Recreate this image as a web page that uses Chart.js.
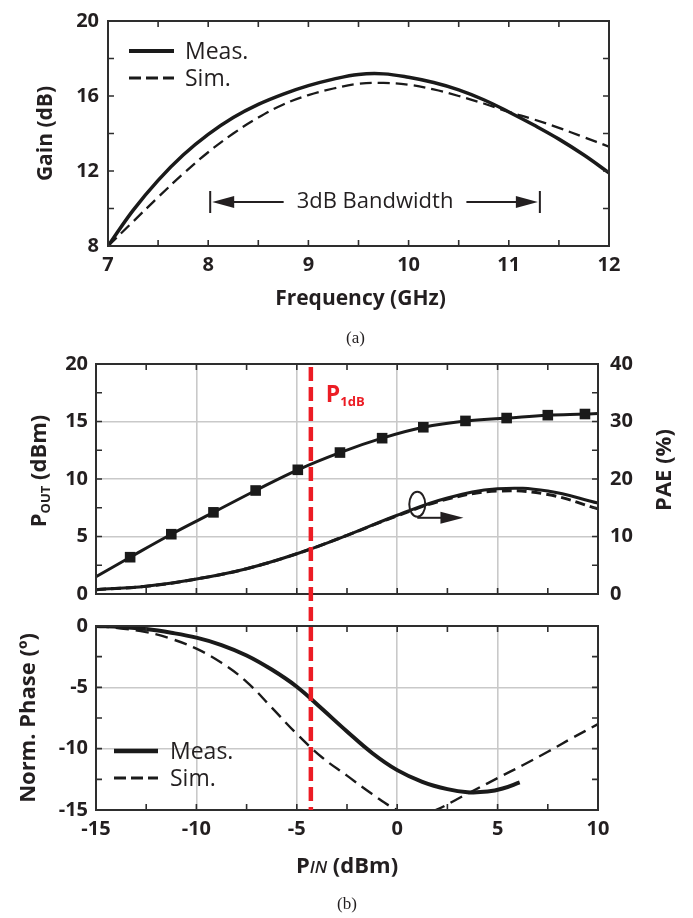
<!DOCTYPE html>
<html><head><meta charset="utf-8">
<script src="https://cdn.jsdelivr.net/npm/chart.js@4.4.1/dist/chart.umd.min.js"></script>
<style>
html,body{margin:0;padding:0;background:#fff;}
#wrap{position:relative;width:693px;height:918px;overflow:hidden;}
canvas{position:absolute;left:0;top:0;}
</style></head>
<body><div id="wrap">
<canvas id="ca" width="693" height="918"></canvas>
<canvas id="cb" width="693" height="918"></canvas>
<canvas id="cc" width="693" height="918"></canvas>
</div>
<script>
// ---------- (a) Gain vs frequency ----------
const freqGHz  = [7, 7.25, 7.5, 7.75, 8, 8.25, 8.5, 8.75, 9, 9.25, 9.5, 9.75, 10, 10.25, 10.5, 10.75, 11, 11.25, 11.5, 11.75, 12];
const gainMeas = [8.0, 9.9, 11.5, 12.85, 13.95, 14.85, 15.55, 16.1, 16.55, 16.9, 17.15, 17.18, 17.0, 16.72, 16.33, 15.8, 15.15, 14.45, 13.7, 12.85, 11.9];
const gainSim  = [8.0, 9.3, 10.6, 11.85, 13.0, 14.0, 14.85, 15.55, 16.05, 16.4, 16.65, 16.7, 16.6, 16.35, 16.0, 15.6, 15.15, 14.75, 14.3, 13.8, 13.3];
const freqTickLabels = [7, 8, 9, 10, 11, 12];
const gainTickLabels = [8, 12, 16, 20];
const bandwidthEdgesGHz = [8.02, 11.31];
const bandwidthLevelDb = 10.35;

// ---------- (b) Pout / PAE vs Pin ----------
const pinPout   = [-15, -13.3, -11.25, -9.15, -7.05, -4.95, -2.85, -0.75, 1.3, 3.4, 5.45, 7.5, 9.35, 10];
const poutMeas  = [1.5, 3.2, 5.2, 7.1, 9.0, 10.8, 12.3, 13.55, 14.5, 15.05, 15.3, 15.55, 15.65, 15.7];
const poutMarker= [false, true, true, true, true, true, true, true, true, true, true, true, true, false];
const pinPae    = [-15, -12.5, -10, -7.5, -5, -2.5, 0, 2.5, 5, 7.5, 10];
const paeMeas   = [0.75, 1.35, 2.6, 4.4, 7.0, 10.2, 13.7, 16.7, 18.3, 17.9, 15.8];
const paeSim    = [0.75, 1.35, 2.6, 4.4, 7.0, 10.2, 13.6, 16.5, 17.9, 17.3, 14.8];
const poutTickLabels = [0, 5, 10, 15, 20];
const paeTickLabels  = [0, 10, 20, 30, 40];

// ---------- (b) Phase vs Pin ----------
const pinPhaseMeas = [-15, -13.75, -12.5, -11.25, -10, -8.75, -7.5, -6.25, -5, -3.75, -2.5, -1.25, 0, 1.25, 2.5, 3.5, 4.5, 5.25, 6.1];
const phaseMeas    = [0, -0.08, -0.25, -0.55, -0.95, -1.55, -2.4, -3.55, -4.95, -6.75, -8.6, -10.35, -11.75, -12.7, -13.3, -13.55, -13.5, -13.25, -12.75];
const pinPhaseSim  = [-15, -13.75, -12.5, -11.25, -10, -8.75, -7.5, -6.25, -5, -3.75, -2.5, -1.25, 0, 1, 2, 3, 4, 5, 6.25, 7.5, 8.75, 10];
const phaseSim     = [0, -0.2, -0.5, -1.05, -1.85, -3.0, -4.55, -6.65, -8.8, -10.7, -12.2, -13.7, -15.0, -15.5, -14.95, -14.1, -13.25, -12.4, -11.35, -10.25, -9.1, -8.0];
const pinTickLabels   = [-15, -10, -5, 0, 5, 10];
const phaseTickLabels = [0, -5, -10, -15];
const p1dbPin = -4.3;
const paeCircle = {pin: 1.0, pae: 15.6, arrowTo: 3.3};

// ---------- common ----------
const FONT = "'Open Sans', 'Liberation Sans', sans-serif";
const INK = '#231f20';
Chart.defaults.font.family = FONT;
Chart.defaults.color = INK;
Chart.defaults.animation = false;
Chart.defaults.plugins.legend.display = false;
Chart.defaults.plugins.tooltip.enabled = false;
const TICK_FONT = {family: FONT, size: 20, weight: 'bold'};
const GRID = '#c9c9c9';

function pts(xs, ys){ return xs.map((x,i)=>({x:x, y:ys[i]})); }
function dummy(pos, size){
  return {position: pos, display: true, min: 0, max: 1,
    ticks: {display: false}, grid: {display: false, drawTicks: false}, border: {display: false},
    afterFit(s){ if (pos === 'top' || pos === 'bottom') s.height = size; else s.width = size; }};
}
function labelCb(list){ return v => list.includes(v) ? String(v) : ''; }
function gridCb(list){
  return c => (c.tick && list.includes(c.tick.value)) ? GRID : 'rgba(0,0,0,0)';
}

const frameTicks = {
  id: 'frameTicks',
  afterDraw(chart){
    const {ctx, chartArea: a} = chart;
    const xs = chart.scales.x, ys = chart.scales.y;
    const L = 6;
    ctx.save();
    ctx.strokeStyle = '#2e2e2e';
    ctx.lineWidth = 1.6;
    ctx.beginPath();
    xs.ticks.forEach(t => {
      if (t.value <= xs.min || t.value >= xs.max) return;
      const px = xs.getPixelForValue(t.value);
      ctx.moveTo(px, a.bottom); ctx.lineTo(px, a.bottom - L);
      ctx.moveTo(px, a.top); ctx.lineTo(px, a.top + L);
    });
    ys.ticks.forEach(t => {
      if (t.value <= ys.min || t.value >= ys.max) return;
      const py = ys.getPixelForValue(t.value);
      ctx.moveTo(a.left, py); ctx.lineTo(a.left + L, py);
      ctx.moveTo(a.right, py); ctx.lineTo(a.right - L, py);
    });
    ctx.stroke();
    ctx.lineWidth = 2;
    ctx.strokeRect(a.left, a.top, a.right - a.left, a.bottom - a.top);
    ctx.restore();
  }
};

function drawRuns(ctx, runs, cx, cy, angle){
  ctx.save();
  ctx.translate(cx, cy);
  if (angle) ctx.rotate(angle);
  let total = 0;
  runs.forEach(r => { ctx.font = r.font; r.w = ctx.measureText(r.text).width; total += r.w; });
  let x = -total / 2;
  ctx.textBaseline = 'alphabetic';
  ctx.textAlign = 'left';
  runs.forEach(r => { ctx.font = r.font; ctx.fillStyle = r.color || INK; ctx.fillText(r.text, x, r.base); x += r.w; });
  ctx.restore();
}
function arrowHead(ctx, tipX, y, dir, len, half){
  ctx.beginPath();
  ctx.moveTo(tipX, y);
  ctx.lineTo(tipX - dir * len, y - half);
  ctx.lineTo(tipX - dir * len, y + half);
  ctx.closePath();
  ctx.fill();
}
function drawLegend(ctx, chart, x0, x1, yRows, textX){
  chart.data.datasets.forEach((ds, i) => {
    const y = yRows[i];
    ctx.save();
    ctx.strokeStyle = ds.borderColor;
    ctx.lineWidth = ds.borderWidth + 0.5;
    ctx.setLineDash(ds.legendDash || []);
    ctx.beginPath(); ctx.moveTo(x0, y); ctx.lineTo(x1, y); ctx.stroke();
    ctx.restore();
    ctx.font = '400 23px ' + FONT;
    ctx.fillStyle = INK;
    ctx.textBaseline = 'middle';
    ctx.textAlign = 'left';
    ctx.fillText(ds.label, textX, y + 1);
  });
}

const TITLE = 'bold 21px ' + FONT;

// ---------- Chart (a) ----------
const annotA = {
  id: 'annotA',
  afterDraw(chart){
    const {ctx, chartArea: a} = chart;
    const xs = chart.scales.x, ys = chart.scales.y;
    const cx = (a.left + a.right) / 2;
    drawRuns(ctx, [{text: 'Gain (dB)', font: TITLE, base: 7.5}], 44, (a.top + a.bottom) / 2, -Math.PI / 2);
    drawRuns(ctx, [{text: 'Frequency (GHz)', font: TITLE, base: 7.5}], cx + 2, a.bottom + 51, 0);
    drawRuns(ctx, [{text: '(a)', font: '17px "Liberation Serif", serif', base: 6}], cx - 3, a.bottom + 91, 0);
    drawLegend(ctx, chart, a.left + 21, a.left + 66, [a.top + 30, a.top + 57], a.left + 77);
    // 3dB bandwidth arrows
    const xl = xs.getPixelForValue(bandwidthEdgesGHz[0]);
    const xr = xs.getPixelForValue(bandwidthEdgesGHz[1]);
    const y = ys.getPixelForValue(bandwidthLevelDb);
    ctx.save();
    ctx.strokeStyle = INK; ctx.fillStyle = INK; ctx.lineWidth = 2;
    ctx.font = '400 22px ' + FONT;
    const label = '3dB Bandwidth';
    const tw = ctx.measureText(label).width;
    const mid = (xl + xr) / 2;
    ctx.textAlign = 'center'; ctx.textBaseline = 'middle';
    ctx.fillText(label, mid, y);
    ctx.beginPath();
    ctx.moveTo(xl, y - 11); ctx.lineTo(xl, y + 11);
    ctx.moveTo(xr, y - 11); ctx.lineTo(xr, y + 11);
    ctx.moveTo(xl + 10, y); ctx.lineTo(mid - tw / 2 - 13, y);
    ctx.moveTo(mid + tw / 2 + 13, y); ctx.lineTo(xr - 10, y);
    ctx.stroke();
    arrowHead(ctx, xl + 2, y, -1, 22, 6);
    arrowHead(ctx, xr - 2, y, 1, 22, 6);
    ctx.restore();
  }
};

new Chart(document.getElementById('ca'), {
  type: 'line',
  data: {datasets: [
    {label: 'Meas.', data: pts(freqGHz, gainMeas), borderColor: '#1a1a1a', borderWidth: 3.5,
     pointRadius: 0, tension: 0.4, legendDash: []},
    {label: 'Sim.', data: pts(freqGHz, gainSim), borderColor: '#1a1a1a', borderWidth: 2.3,
     borderDash: [12, 6], pointRadius: 0, tension: 0.4, legendDash: [12, 5]}
  ]},
  options: {
    responsive: false, devicePixelRatio: 1,
    layout: {padding: {left: 0, right: 0, top: 0, bottom: 612}},
    scales: {
      x: {type: 'linear', position: 'bottom', min: 7, max: 12,
          ticks: {stepSize: 0.5, autoSkip: false, maxRotation: 0, padding: 7, font: TICK_FONT, callback: labelCb(freqTickLabels)},
          grid: {display: false, drawTicks: false}, border: {display: false},
          afterFit(s){ s.height = 60; }},
      y: {type: 'linear', position: 'left', min: 8, max: 20,
          ticks: {stepSize: 2, autoSkip: false, padding: 9, font: TICK_FONT, callback: labelCb(gainTickLabels)},
          grid: {display: false, drawTicks: false}, border: {display: false},
          afterFit(s){ s.width = 108; }},
      x2: dummy('top', 15),
      y2: dummy('right', 84)
    }
  },
  plugins: [frameTicks, annotA]
});

// ---------- Chart (b) top ----------
let chartTop;
const annotB = {
  id: 'annotB',
  afterDraw(chart){
    const {ctx, chartArea: a} = chart;
    const xs = chart.scales.x, yp = chart.scales.yPae, ys = chart.scales.y;
    drawRuns(ctx, [
      {text: 'P', font: 'bold 22px ' + FONT, base: 8},
      {text: 'OUT', font: 'bold 13px ' + FONT, base: 12},
      {text: ' (dBm)', font: 'bold 22px ' + FONT, base: 8}
    ], 38, (a.top + a.bottom) / 2 - 8, -Math.PI / 2);
    drawRuns(ctx, [{text: 'PAE (%)', font: 'bold 22px ' + FONT, base: 8}], 663, (a.top + a.bottom) / 2 - 9, -Math.PI / 2);
    // circle + arrow marking the PAE curves
    const cx = xs.getPixelForValue(paeCircle.pin), cy = yp.getPixelForValue(paeCircle.pae);
    const tx = xs.getPixelForValue(paeCircle.arrowTo);
    ctx.save();
    ctx.strokeStyle = INK; ctx.fillStyle = INK; ctx.lineWidth = 2;
    ctx.beginPath(); ctx.ellipse(cx, cy, 8, 12.5, 0, 0, Math.PI * 2); ctx.stroke();
    const ay = cy + 13.5;
    ctx.beginPath(); ctx.moveTo(cx, ay); ctx.lineTo(tx - 18, ay); ctx.stroke();
    arrowHead(ctx, tx, ay, 1, 23, 6);
    ctx.restore();
    // P1dB label
    const px = xs.getPixelForValue(p1dbPin);
    const py = ys.getPixelForValue(17.4);
    ctx.save();
    ctx.fillStyle = '#ec1c24';
    ctx.textBaseline = 'alphabetic'; ctx.textAlign = 'left';
    ctx.font = 'bold 23px ' + FONT;
    ctx.fillText('P', px + 15, py + 8);
    const w = ctx.measureText('P').width;
    ctx.font = 'bold 13px ' + FONT;
    ctx.fillText('1dB', px + 15 + w, py + 12);
    ctx.restore();
  }
};

chartTop = new Chart(document.getElementById('cb'), {
  type: 'line',
  data: {datasets: [
    {label: 'Pout', data: pts(pinPout, poutMeas), yAxisID: 'y', borderColor: '#1a1a1a', borderWidth: 3,
     pointStyle: 'rect', pointRadius: poutMarker.map(m => m ? 7.5 : 0), pointBackgroundColor: '#1a1a1a',
     pointBorderColor: '#1a1a1a', pointBorderWidth: 0, tension: 0.4},
    {label: 'PAE Meas.', data: pts(pinPae, paeMeas), yAxisID: 'yPae', borderColor: '#1a1a1a', borderWidth: 3,
     pointRadius: 0, tension: 0.4},
    {label: 'PAE Sim.', data: pts(pinPae, paeSim), yAxisID: 'yPae', borderColor: '#1a1a1a', borderWidth: 3,
     borderDash: [10, 5], pointRadius: 0, tension: 0.4}
  ]},
  options: {
    responsive: false, devicePixelRatio: 1,
    layout: {padding: {left: 0, right: 0, top: 344, bottom: 304}},
    scales: {
      x: {type: 'linear', position: 'bottom', min: -15, max: 10,
          ticks: {display: false, stepSize: 2.5, autoSkip: false},
          grid: {color: gridCb([-10, -5, 0, 5]), lineWidth: 1.6, drawTicks: false}, border: {display: false},
          afterFit(s){ s.height = 20; }},
      y: {type: 'linear', position: 'left', min: 0, max: 20,
          ticks: {stepSize: 2.5, autoSkip: false, padding: 8, font: TICK_FONT, callback: labelCb(poutTickLabels)},
          grid: {color: gridCb([5, 10, 15]), lineWidth: 1.6, drawTicks: false}, border: {display: false},
          afterFit(s){ s.width = 96; }},
      yPae: {type: 'linear', position: 'right', min: 0, max: 40,
          ticks: {stepSize: 10, autoSkip: false, padding: 12, font: TICK_FONT, callback: labelCb(paeTickLabels)},
          grid: {display: false, drawTicks: false}, border: {display: false},
          afterFit(s){ s.width = 95; }},
      x2: dummy('top', 20)
    }
  },
  plugins: [frameTicks, annotB]
});

// ---------- Chart (b) bottom ----------
const annotC = {
  id: 'annotC',
  afterDraw(chart){
    const {ctx, chartArea: a} = chart;
    const xs = chart.scales.x;
    const cx = (a.left + a.right) / 2;
    drawRuns(ctx, [{text: 'Norm. Phase (º)', font: 'bold 22px ' + FONT, base: 8}], 27, (a.top + a.bottom) / 2, -Math.PI / 2);
    drawRuns(ctx, [
      {text: 'P', font: 'bold 22px ' + FONT, base: 8},
      {text: 'IN', font: 'italic 600 17px ' + FONT, base: 8},
      {text: ' (dBm)', font: 'bold 22px ' + FONT, base: 8}
    ], cx, a.bottom + 55, 0);
    drawRuns(ctx, [{text: '(b)', font: '17px "Liberation Serif", serif', base: 6}], cx, a.bottom + 93, 0);
    drawLegend(ctx, chart, a.left + 18, a.left + 62, [a.top + 125, a.top + 152], a.left + 74);
    // P1dB dashed marker line spanning both panels
    const px = xs.getPixelForValue(p1dbPin);
    ctx.save();
    ctx.strokeStyle = '#ec1c24';
    ctx.lineWidth = 4.5;
    ctx.setLineDash([14, 6]);
    ctx.beginPath();
    ctx.moveTo(px, chartTop.chartArea.top + 3);
    ctx.lineTo(px, a.bottom);
    ctx.stroke();
    ctx.restore();
  }
};

new Chart(document.getElementById('cc'), {
  type: 'line',
  data: {datasets: [
    {label: 'Meas.', data: pts(pinPhaseMeas, phaseMeas), borderColor: '#1a1a1a', borderWidth: 4,
     pointRadius: 0, tension: 0.4, legendDash: []},
    {label: 'Sim.', data: pts(pinPhaseSim, phaseSim), borderColor: '#1a1a1a', borderWidth: 2.4,
     borderDash: [13, 7], pointRadius: 0, tension: 0.4, legendDash: [12, 5]}
  ]},
  options: {
    responsive: false, devicePixelRatio: 1,
    layout: {padding: {left: 0, right: 0, top: 606, bottom: 48}},
    scales: {
      x: {type: 'linear', position: 'bottom', min: -15, max: 10,
          ticks: {stepSize: 2.5, autoSkip: false, maxRotation: 0, padding: 7, font: TICK_FONT, callback: labelCb(pinTickLabels)},
          grid: {color: gridCb([-10, -5, 0, 5]), lineWidth: 1.6, drawTicks: false}, border: {display: false},
          afterFit(s){ s.height = 60; }},
      y: {type: 'linear', position: 'left', min: -15, max: 0,
          ticks: {stepSize: 2.5, autoSkip: false, padding: 8, font: TICK_FONT, callback: labelCb(phaseTickLabels)},
          grid: {color: gridCb([-5, -10]), lineWidth: 1.6, drawTicks: false}, border: {display: false},
          afterFit(s){ s.width = 96; }},
      x2: dummy('top', 20),
      y2: dummy('right', 95)
    }
  },
  plugins: [frameTicks, annotC]
});
</script>
</body></html>
